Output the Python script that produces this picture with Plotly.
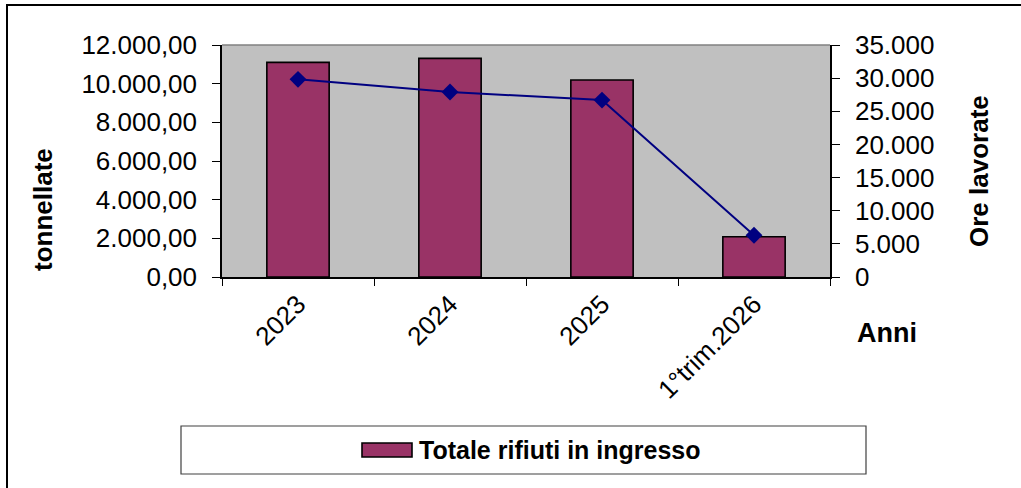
import plotly.graph_objects as go

# Categories and series
anni = ["2023", "2024", "2025", "1°trim.2026"]
rifiuti_tonnellate = [11100, 11310, 10190, 2080]
ore_lavorate = [29820, 27900, 26690, 6300]

left_ticks = [0, 2000, 4000, 6000, 8000, 10000, 12000]
right_ticks = [0, 5000, 10000, 15000, 20000, 25000, 30000, 35000]

W, H = 1021, 488
ML, MR, MT, MB = 222, 191, 45, 211
PW, PH = W - ML - MR, H - MT - MB


def px(x):
    return (x - ML) / PW


def py(y):
    return (H - MB - y) / PH


FONT = "Liberation Sans, Arial, sans-serif"
BAR_COLOR = "#993366"
LINE_COLOR = "#000080"

fig = go.Figure()

fig.add_trace(go.Bar(
    x=anni, y=rifiuti_tonnellate, name="Totale rifiuti in ingresso",
    marker=dict(color=BAR_COLOR, line=dict(color="black", width=1.6)),
    yaxis="y", showlegend=False,
))

fig.add_trace(go.Scatter(
    x=anni, y=ore_lavorate, name="Ore lavorate", mode="lines+markers",
    line=dict(color=LINE_COLOR, width=2),
    marker=dict(symbol="diamond", size=13, color=LINE_COLOR),
    yaxis="y2", showlegend=False,
))

tick_font = dict(family=FONT, size=26, color="black")

fig.update_layout(
    width=W, height=H,
    margin=dict(l=ML, r=MR, t=MT, b=MB, autoexpand=False),
    paper_bgcolor="white", plot_bgcolor="#C0C0C0",
    separators=",.",
    bargap=0.59,
    showlegend=False,
    xaxis=dict(
        type="category", range=[-0.5, 3.5], tickson="boundaries",
        ticks="outside", ticklen=7, tickcolor="black", tickwidth=1,
        showline=True, linecolor="black", linewidth=1.5,
        showgrid=False, zeroline=False,
        tickangle=-45, tickfont=tick_font,
    ),
    yaxis=dict(
        range=[0, 12000], tickvals=left_ticks, tickformat=",.2f",
        ticks="outside", ticklen=8, tickcolor="black",
        showline=True, linecolor="black", linewidth=1.5,
        showgrid=False, zeroline=False, tickfont=tick_font,
        ticklabelstandoff=10,
    ),
    yaxis2=dict(
        range=[0, 35000], tickvals=right_ticks, tickformat=",d",
        overlaying="y", side="right",
        ticks="outside", ticklen=8, tickcolor="black",
        showline=True, linecolor="black", linewidth=1.5,
        showgrid=False, zeroline=False, tickfont=tick_font,
        ticklabelstandoff=10,
    ),
    # inner halves of the crossing tick marks
    yaxis3=dict(
        range=[0, 12000], tickvals=left_ticks, overlaying="y", side="left",
        ticks="inside", ticklen=7, tickcolor="black", showticklabels=False,
        showgrid=False, zeroline=False, showline=False,
    ),
    yaxis4=dict(
        range=[0, 35000], tickvals=right_ticks, overlaying="y", side="right",
        ticks="inside", ticklen=7, tickcolor="black", showticklabels=False,
        showgrid=False, zeroline=False, showline=False,
    ),
    xaxis2=dict(
        type="category", range=[-0.5, 3.5], overlaying="x", side="bottom",
        anchor="y", tickson="boundaries", categoryarray=anni,
        tickvals=anni, ticks="inside", ticklen=7, tickcolor="black",
        showticklabels=False, showgrid=False, zeroline=False, showline=False,
    ),
)

shapes = [
    # plot area frame (top edge grey)
    dict(type="line", xref="paper", yref="paper", x0=0, x1=1, y0=1, y1=1,
         line=dict(color="#808080", width=1.5), layer="below"),
    # outer chart frame
    dict(type="rect", xref="paper", yref="paper",
         x0=px(7), x1=px(W + 20), y0=py(5), y1=py(H + 20),
         line=dict(color="black", width=2), fillcolor="rgba(0,0,0,0)"),
    # legend box
    dict(type="rect", xref="paper", yref="paper",
         x0=px(181), x1=px(866), y0=py(426), y1=py(474),
         line=dict(color="#404040", width=1.2), fillcolor="white"),
    # legend swatch
    dict(type="rect", xref="paper", yref="paper",
         x0=px(362), x1=px(412), y0=py(443), y1=py(457),
         line=dict(color="black", width=1.6), fillcolor=BAR_COLOR),
]

annotations = [
    dict(text="<b>tonnellate</b>", xref="paper", yref="paper",
         x=px(43), y=py(210), textangle=-90, showarrow=False,
         xanchor="center", yanchor="middle",
         font=dict(family=FONT, size=26, color="black")),
    dict(text="<b>Ore lavorate</b>", xref="paper", yref="paper",
         x=px(979), y=py(171), textangle=-90, showarrow=False,
         xanchor="center", yanchor="middle",
         font=dict(family=FONT, size=26, color="black")),
    dict(text="<b>Anni</b>", xref="paper", yref="paper",
         x=px(887), y=py(333), showarrow=False,
         xanchor="center", yanchor="middle",
         font=dict(family=FONT, size=27, color="black")),
    dict(text="<b>Totale rifiuti in ingresso</b>", xref="paper", yref="paper",
         x=px(417), y=py(450), showarrow=False,
         xanchor="left", yanchor="middle",
         font=dict(family=FONT, size=25, color="black")),
]

fig.update_layout(shapes=shapes, annotations=annotations)

fig.write_html("out.html")
